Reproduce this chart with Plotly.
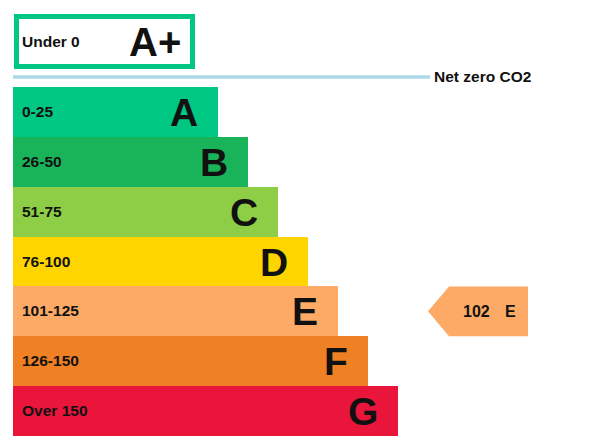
import plotly.graph_objects as go

# ---- data ----
bands = ["A", "B", "C", "D", "E", "F", "G"]
ranges = ["0-25", "26-50", "51-75", "76-100", "101-125", "126-150", "Over 150"]
colors = ["#00c781", "#19b459", "#8dce46", "#ffd500", "#fcaa65", "#ef8023", "#e9153b"]
top_band = "A+"
top_range = "Under 0"
net_zero_label = "Net zero CO2"
current_score = 102
current_band = "E"

# ---- layout geometry (pixel-like axis units) ----
W, H = 589, 441
x_left = 13
bar_len0 = 205
bar_step = 30
row_top = 87
row_h = 49.86
font = "Liberation Sans, Arial, sans-serif"

def row_center(i):
    return row_top + row_h * (i + 0.5)

fig = go.Figure()

ys = [row_center(i) for i in range(len(bands))]
lens = [bar_len0 + bar_step * i for i in range(len(bands))]

fig.add_trace(go.Bar(
    orientation="h",
    y=ys,
    x=lens,
    base=[x_left] * len(bands),
    width=[row_h] * len(bands),
    marker=dict(color=colors, line=dict(width=0)),
    hoverinfo="skip",
    showlegend=False,
))

annotations = []
for i, (b, r) in enumerate(zip(bands, ranges)):
    annotations.append(dict(x=20, y=ys[i] - 0.5, text=f"<b>{r}</b>", showarrow=False,
                            xanchor="left", yanchor="middle",
                            font=dict(family=font, size=15.5, color="#111")))
    annotations.append(dict(x=x_left + lens[i] - 18, y=ys[i] + 0.5, text=f"<b>{b}</b>",
                            showarrow=False, xanchor="right", yanchor="middle",
                            font=dict(family=font, size=39, color="#111")))

shapes = []
# top A+ box
shapes.append(dict(type="rect", x0=16.5, x1=192.5, y0=16.5, y1=66.5,
                   line=dict(color=colors[0], width=5), fillcolor="white", layer="above"))
annotations.append(dict(x=20, y=41, text=f"<b>{top_range}</b>", showarrow=False,
                        xanchor="left", yanchor="middle",
                        font=dict(family=font, size=15.5, color="#111")))
annotations.append(dict(x=155, y=42, text=f"<b>{top_band}</b>", showarrow=False,
                        xanchor="center", yanchor="middle",
                        font=dict(family=font, size=40, color="#111")))
# net zero line
shapes.append(dict(type="line", x0=13, x1=430, y0=77, y1=77,
                   line=dict(color="#add8e6", width=3.5)))
annotations.append(dict(x=432, y=76, text=f"<b>{net_zero_label}</b>", showarrow=False,
                        xanchor="left", yanchor="middle",
                        font=dict(family=font, size=15.5, color="#111")))

# current rating arrow
ci = bands.index(current_band)
cy = row_center(ci)
half = row_h / 2
path = (f"M 428,{cy} L 449,{cy - half} L 528,{cy - half} "
        f"L 528,{cy + half} L 449,{cy + half} Z")
shapes.append(dict(type="path", path=path, fillcolor=colors[ci],
                   line=dict(width=0), layer="above"))
annotations.append(dict(x=461, y=cy, text=f"<b>{current_score}</b>", showarrow=False,
                        xanchor="left", yanchor="middle",
                        font=dict(family=font, size=16, color="#111")))
annotations.append(dict(x=503, y=cy, text=f"<b>{current_band}</b>", showarrow=False,
                        xanchor="left", yanchor="middle",
                        font=dict(family=font, size=16, color="#111")))

fig.update_layout(
    width=W, height=H,
    margin=dict(l=0, r=0, t=0, b=0),
    paper_bgcolor="white", plot_bgcolor="white",
    xaxis=dict(range=[0, W], visible=False, fixedrange=True),
    yaxis=dict(range=[H, 0], visible=False, fixedrange=True),
    shapes=shapes, annotations=annotations,
    bargap=0,
)

fig.write_html("out.html", config={"displayModeBar": False})
